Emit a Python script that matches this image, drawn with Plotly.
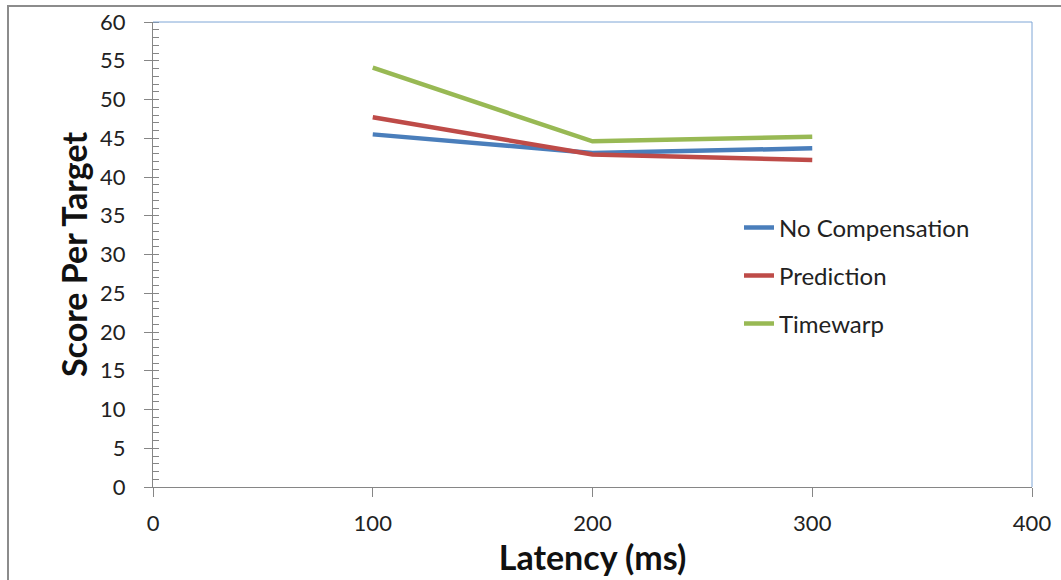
import plotly.graph_objects as go

latency = [100, 200, 300]
no_comp = [45.5, 43.1, 43.7]
prediction = [47.7, 42.9, 42.2]
timewarp = [54.1, 44.6, 45.2]

series = [
    ("No Compensation", no_comp, "#4a7ebb", "legend"),
    ("Prediction", prediction, "#be4b48", "legend2"),
    ("Timewarp", timewarp, "#98b954", "legend3"),
]

FONT = "Lato"
fig = go.Figure()
for name, vals, color, lg in series:
    fig.add_trace(go.Scatter(x=latency, y=vals, mode="lines", name=name, showlegend=True,
                             line=dict(color=color, width=4.5), legend=lg))

L, R, T, B = 153, 29, 22, 93
W, H = 1061, 580
pw, ph = W - L - R, H - T - B

def leg(ypix):
    return dict(x=(739 - L) / pw, y=1 - (ypix - T) / ph, xanchor="left", yanchor="middle",
                bgcolor="rgba(0,0,0,0)", font=dict(family=FONT, size=24, color="#222"),
                borderwidth=0, visible=True)

fig.update_layout(
    width=W, height=H,
    margin=dict(l=L, r=R, t=T, b=B, autoexpand=False),
    paper_bgcolor="white", plot_bgcolor="white",
    showlegend=True,
    font=dict(family=FONT, color="#222"),
    legend=leg(228), legend2=leg(276), legend3=leg(324),
    xaxis=dict(range=[0, 400], tickvals=[0, 100, 200, 300, 400], showgrid=False,
               zeroline=False, showline=True, linecolor="#868686", linewidth=1,
               ticks="outside", ticklen=9, tickcolor="#868686", automargin=False,
               tickfont=dict(family=FONT, size=22, color="#222"), ticklabelstandoff=8,
               title=dict(text="<b>Latency (ms)</b>", font=dict(family=FONT, size=34, color="#111"), standoff=4),
               mirror=False),
    yaxis=dict(range=[0, 60], tickvals=list(range(0, 61, 5)), showgrid=False,
               zeroline=False, showline=True, linecolor="#868686", linewidth=1,
               ticks="outside", ticklen=8, tickcolor="#868686", automargin=False,
               minor=dict(dtick=1, ticks="inside", ticklen=6, tickcolor="#868686", showgrid=False),
               tickfont=dict(family=FONT, size=22, color="#222"), ticklabelstandoff=14,
               title=dict(text="<b>Score Per Target</b>", font=dict(family=FONT, size=34, color="#111"), standoff=2)),
    shapes=[
        dict(type="line", xref="paper", yref="paper", x0=0, x1=1, y0=1, y1=1,
             line=dict(color="#7ea6d6", width=1)),
        dict(type="line", xref="paper", yref="paper", x0=1, x1=1, y0=0, y1=1,
             line=dict(color="#7ea6d6", width=1)),
        dict(type="rect", xref="paper", yref="paper",
             x0=(8 - L) / pw, x1=(1075 - L) / pw,
             y0=1 - (600 - T) / ph, y1=1 - (6 - T) / ph,
             line=dict(color="#8c8c8c", width=2), layer="below"),
    ],
)

fig.write_html("out.html")
